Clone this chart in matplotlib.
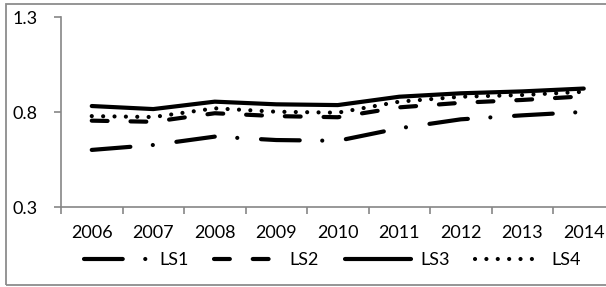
import matplotlib.pyplot as plt
from matplotlib.patches import Rectangle

plt.rcParams['font.family'] = ['Lato', 'DejaVu Sans']

years = ['2006', '2007', '2008', '2009', '2010', '2011', '2012', '2013', '2014']
ls1 = [0.602, 0.628, 0.672, 0.654, 0.650, 0.716, 0.763, 0.784, 0.802]
ls2 = [0.756, 0.750, 0.795, 0.780, 0.774, 0.826, 0.850, 0.865, 0.884]
ls3 = [0.833, 0.817, 0.856, 0.842, 0.838, 0.882, 0.900, 0.910, 0.925]
ls4 = [0.780, 0.775, 0.821, 0.803, 0.798, 0.856, 0.882, 0.891, 0.908]
series_names = ['LS1', 'LS2', 'LS3', 'LS4']

W, H = 606, 287
fig = plt.figure(figsize=(W / 100, H / 100), dpi=100)
# plot area runs past the right edge, like the cropped original
ax = fig.add_axes([61 / W, 1 - 207.3 / H, (614.5 - 61) / W, 190 / H])

# chart-area border (right side cropped off)
fig.patches.append(Rectangle((6 / W, 2 / H), 1.2, 281 / H, transform=fig.transFigure,
                             fill=False, edgecolor='#8c8c8c', linewidth=1.3,
                             clip_on=False))

x = list(range(len(years)))
styles = [
    (0, (9.3, 5.4, 0.01, 5.7)),
    (0, (3.8, 5.5)),
    '-',
    (0, (0.01, 2.72)),
]
for vals, name, ls in zip([ls1, ls2, ls3, ls4], series_names, styles):
    ax.plot(x, vals, color='black', linewidth=3, linestyle=ls, label=name,
            dash_capstyle='round', solid_capstyle='round',
            solid_joinstyle='round', dash_joinstyle='round')

ax.set_xlim(-0.5, len(years) - 0.5)
ax.set_ylim(0.3, 1.3)
ax.set_yticks([0.3, 0.8, 1.3])
ax.set_yticklabels(['0.3', '0.8', '1.3'])
ax.set_xticks([i - 0.5 for i in range(len(years) + 1)])
ax.set_xticklabels([])
ax.set_xticks(x, minor=True)
ax.set_xticklabels(years, minor=True)

for s in ['top', 'right']:
    ax.spines[s].set_visible(False)
for s in ['left', 'bottom']:
    ax.spines[s].set_color('#868686')
    ax.spines[s].set_linewidth(1.2)

ax.tick_params(axis='y', length=5, width=1.2, color='#868686', pad=12,
               labelsize=13)
ax.tick_params(axis='x', which='major', length=5, width=1.2, color='#868686')
ax.tick_params(axis='x', which='minor', length=0, pad=12.5, labelsize=13)

fig.legend(loc='center', bbox_to_anchor=(332 / W, 1 - 260 / H), ncol=4,
           frameon=False, fontsize=13, handlelength=3.7, handletextpad=0.5,
           columnspacing=1.4)

fig.savefig('out.png', dpi=100)
